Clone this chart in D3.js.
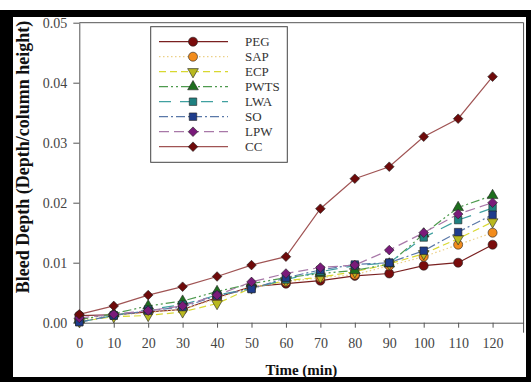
<!DOCTYPE html>
<html>
<head>
<meta charset="utf-8">
<script src="https://cdn.jsdelivr.net/npm/d3@7"></script>
<style>
  body { margin: 0; background: #fff; }
  svg { display: block; }
  text { font-family: "Liberation Serif", "Times New Roman", serif; }
</style>
</head>
<body>
<div id="chart"></div>
<script>
// time (min)
const times = [0, 10, 20, 30, 40, 50, 60, 70, 80, 90, 100, 110, 120];
const seriesNames = ['PEG', 'SAP', 'ECP', 'PWTS', 'LWA', 'SO', 'LPW', 'CC'];

// bleed depth values
const PEG  = [0.0012, 0.0013, 0.0018, 0.0022, 0.0042, 0.0060, 0.0065, 0.0070, 0.0078, 0.0082, 0.0095, 0.0100, 0.0130];
const SAP  = [0.0003, 0.0012, 0.0017, 0.0022, 0.0040, 0.0060, 0.0068, 0.0075, 0.0080, 0.0095, 0.0110, 0.0130, 0.0150];
const ECP  = [0.0002, 0.0010, 0.0012, 0.0018, 0.0032, 0.0058, 0.0070, 0.0076, 0.0085, 0.0098, 0.0115, 0.0140, 0.0168];
const PWTS = [0.0005, 0.0015, 0.0028, 0.0036, 0.0052, 0.0065, 0.0075, 0.0082, 0.0087, 0.0098, 0.0148, 0.0192, 0.0212];
const LWA  = [0.0001, 0.0012, 0.0022, 0.0030, 0.0046, 0.0057, 0.0072, 0.0085, 0.0095, 0.0100, 0.0142, 0.0171, 0.0191];
const SO   = [0.0001, 0.0012, 0.0020, 0.0026, 0.0045, 0.0056, 0.0075, 0.0088, 0.0097, 0.0100, 0.0120, 0.0151, 0.0180];
const LPW  = [0.0008, 0.0014, 0.0020, 0.0028, 0.0046, 0.0068, 0.0082, 0.0092, 0.0096, 0.0121, 0.0150, 0.0181, 0.0200];
const CC   = [0.0014, 0.0028, 0.0046, 0.0060, 0.0077, 0.0096, 0.0110, 0.0190, 0.0240, 0.0260, 0.0310, 0.0340, 0.0410];

const xTicks = [0, 10, 20, 30, 40, 50, 60, 70, 80, 90, 100, 110, 120];
const yTicks = [0, 0.01, 0.02, 0.03, 0.04, 0.05];

const values = [PEG, SAP, ECP, PWTS, LWA, SO, LPW, CC];

const styles = [
  { line: '#7a2020', dash: null,            fill: '#7a0c0c', sym: d3.symbolCircle,   size: 64, rot: 0 },
  { line: '#ecd088', dash: '1.5,2.5',       fill: '#f28c1c', sym: d3.symbolCircle,   size: 64, rot: 0 },
  { line: '#d8d830', dash: '7,4',           fill: '#b8b820', sym: d3.symbolTriangle, size: 50, rot: 180 },
  { line: '#4e9a4e', dash: '9,3,2,3,2,3',   fill: '#1e6e1e', sym: d3.symbolTriangle, size: 50, rot: 0 },
  { line: '#40a0a0', dash: '12,9',          fill: '#1f8080', sym: d3.symbolSquare,   size: 56, rot: 0 },
  { line: '#5a78a8', dash: '9,3,2,3',       fill: '#1e3c8c', sym: d3.symbolSquare,   size: 56, rot: 0 },
  { line: '#a878a8', dash: '10,5',          fill: '#7a1a7a', sym: d3.symbolSquare,   size: 46, rot: 45 },
  { line: '#a05454', dash: null,            fill: '#6e0a0a', sym: d3.symbolSquare,   size: 46, rot: 45 }
];

const width = 531, height = 382;
const svg = d3.select('#chart').append('svg')
  .attr('width', width)
  .attr('height', height);

// black frame around the figure
svg.append('rect').attr('x', 0).attr('y', 10).attr('width', width).attr('height', height - 10).attr('fill', '#000');
svg.append('rect').attr('x', 13).attr('y', 17).attr('width', 513).attr('height', 360).attr('fill', '#fff');

const x = d3.scaleLinear().domain([0, 129]).range([79.3, 79.3 + 129 * 3.444]);
const y = d3.scaleLinear().domain([0, 0.05]).range([322.7, 22.7]);
const axisColor = '#555';

// top and right frame lines
svg.append('line').attr('x1', x(0)).attr('x2', x(129)).attr('y1', y(0.05)).attr('y2', y(0.05))
  .attr('stroke', axisColor).attr('stroke-width', 1);
svg.append('line').attr('x1', x(129)).attr('x2', x(129)).attr('y1', y(0.05)).attr('y2', y(0) + 10)
  .attr('stroke', axisColor).attr('stroke-width', 1);

const xAxis = svg.append('g')
  .attr('transform', `translate(0,${y(0)})`)
  .call(d3.axisBottom(x).tickValues(xTicks).tickSize(5).tickSizeOuter(0).tickPadding(10).tickFormat(d3.format('d')));
const yAxis = svg.append('g')
  .attr('transform', `translate(${x(0)},0)`)
  .call(d3.axisLeft(y).tickValues(yTicks).tickSize(6).tickSizeOuter(0).tickPadding(6).tickFormat(d3.format('.2f')));

[xAxis, yAxis].forEach(g => {
  g.select('.domain').attr('stroke', axisColor);
  g.selectAll('.tick line').attr('stroke', axisColor);
  g.selectAll('.tick text').attr('fill', '#444').style('font-size', '14px')
    .style('font-family', '"Liberation Serif", serif');
});

// axis titles
svg.append('text')
  .attr('x', (x(0) + x(129)) / 2).attr('y', 370)
  .attr('text-anchor', 'middle').attr('dominant-baseline', 'central')
  .style('font-size', '15px').style('font-weight', 'bold').attr('fill', '#111')
  .text('Time (min)');
svg.append('text')
  .attr('transform', 'translate(23,157) rotate(-90)')
  .attr('text-anchor', 'middle').attr('dominant-baseline', 'central')
  .style('font-size', '18px').style('font-weight', 'bold').attr('fill', '#111')
  .text('Bleed Depth (Depth/column height)');

const line = d3.line().x((d, i) => x(times[i])).y(d => y(d));

const symbolPath = (st) => d3.symbol().type(st.sym).size(st.size)();

// series lines (CC drawn last)
values.forEach((vals, k) => {
  const st = styles[k];
  svg.append('path')
    .datum(vals)
    .attr('d', line)
    .attr('fill', 'none')
    .attr('stroke', st.line)
    .attr('stroke-width', 1.2)
    .attr('stroke-dasharray', st.dash);
});
values.forEach((vals, k) => {
  const st = styles[k];
  svg.append('g').selectAll('path')
    .data(vals)
    .enter().append('path')
    .attr('d', symbolPath(st))
    .attr('transform', (d, i) => `translate(${x(times[i])},${y(d)}) rotate(${st.rot})`)
    .attr('fill', st.fill)
    .attr('stroke', '#222')
    .attr('stroke-width', 0.6);
});

// legend
const legend = svg.append('g');
legend.append('rect')
  .attr('x', 150.7).attr('y', 26.7).attr('width', 136.6).attr('height', 135.6)
  .attr('fill', '#fff').attr('stroke', '#444').attr('stroke-width', 1);
seriesNames.forEach((name, k) => {
  const st = styles[k];
  const ly = 41.7 + k * 15;
  legend.append('line')
    .attr('x1', 159).attr('x2', 228).attr('y1', ly).attr('y2', ly)
    .attr('stroke', st.line).attr('stroke-width', 1.2).attr('stroke-dasharray', st.dash);
  legend.append('path')
    .attr('d', symbolPath(st))
    .attr('transform', `translate(193,${ly}) rotate(${st.rot})`)
    .attr('fill', st.fill).attr('stroke', '#222').attr('stroke-width', 0.6);
  legend.append('text')
    .attr('x', 245).attr('y', ly)
    .attr('dominant-baseline', 'central')
    .style('font-size', '13px').attr('fill', '#333')
    .text(name);
});
</script>
</body>
</html>
